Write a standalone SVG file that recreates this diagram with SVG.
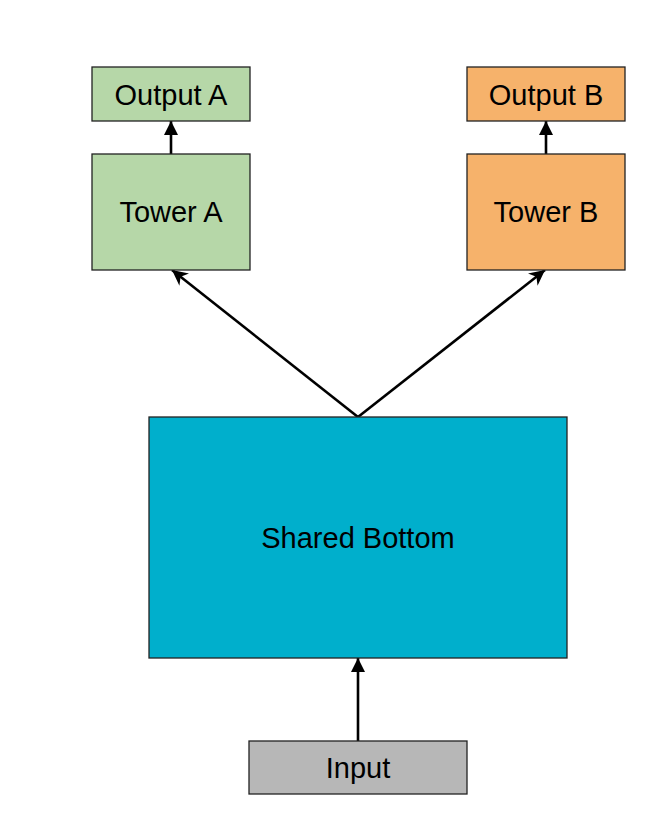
<svg xmlns="http://www.w3.org/2000/svg" width="660" height="816" viewBox="0 0 660 816">
<style>
.box{stroke:#222;stroke-width:1.3}
.lbl{font-family:"Liberation Sans",Arial,sans-serif;font-size:29px;fill:#000;text-anchor:middle}
.edge{stroke:#000;stroke-width:2.6;fill:none}
</style>
<defs>
<marker id="tri" viewBox="0 0 10 10" refX="10" refY="5" markerWidth="5.5" markerHeight="6" markerUnits="strokeWidth" orient="auto">
<path d="M0,0 L10,5 L0,10 z" fill="#000"/>
</marker>
<marker id="notch" viewBox="0 0 10 10" refX="10" refY="5" markerWidth="6" markerHeight="6" markerUnits="strokeWidth" orient="auto">
<path d="M0,0 L10,5 L0,10 L3,5 z" fill="#000"/>
</marker>
</defs>
<rect width="660" height="816" fill="#fff"/>
<g id="connectors">
<line class="edge" x1="171" y1="154" x2="171" y2="121" marker-end="url(#tri)"/>
<line class="edge" x1="546" y1="154" x2="546" y2="121" marker-end="url(#tri)"/>
<line class="edge" x1="358" y1="417" x2="172" y2="270" marker-end="url(#notch)"/>
<line class="edge" x1="358" y1="417" x2="545" y2="270" marker-end="url(#notch)"/>
<line class="edge" x1="358" y1="741" x2="358" y2="658" marker-end="url(#tri)"/>
</g>
<g id="output_a">
<rect class="box" x="92" y="67" width="158" height="54" fill="#b6d7a8"/>
<text class="lbl" x="171" y="105">Output A</text>
</g>
<g id="tower_a">
<rect class="box" x="92" y="154" width="158" height="116" fill="#b6d7a8"/>
<text class="lbl" x="171" y="222">Tower A</text>
</g>
<g id="output_b">
<rect class="box" x="467" y="67" width="158" height="54" fill="#f6b26b"/>
<text class="lbl" x="546" y="105">Output B</text>
</g>
<g id="tower_b">
<rect class="box" x="467" y="154" width="158" height="116" fill="#f6b26b"/>
<text class="lbl" x="546" y="222">Tower B</text>
</g>
<g id="shared_bottom">
<rect class="box" x="149" y="417" width="418" height="241" fill="#00afcc"/>
<text class="lbl" x="358" y="548">Shared Bottom</text>
</g>
<g id="input">
<rect class="box" x="249" y="741" width="218" height="53" fill="#b7b7b7"/>
<text class="lbl" x="358" y="778">Input</text>
</g>
</svg>
